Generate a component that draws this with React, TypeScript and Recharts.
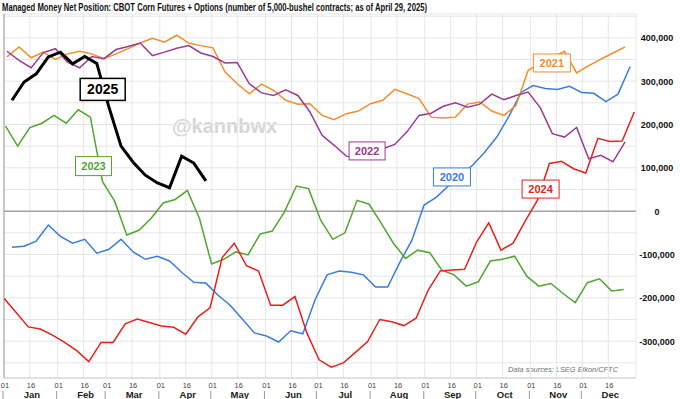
import React from "react";
import { LineChart, Line, XAxis, YAxis, CartesianGrid, ReferenceLine, ReferenceDot } from "recharts";

// weekly managed money net position, thousands of contracts (from first report of the year)
const y2020 = [-83, -81, -69, -32, -58, -74, -65, -97, -88, -65, -94, -111, -104, -115, -141, -164, -166, -194, -217, -249, -281, -288, -302, -276, -283, -205, -147, -138, -141, -147, -175, -175, -118, -67, 14, 32, 58, 83, 106, 136, 171, 219, 274, 290, 283, 281, 288, 274, 272, 253, 270, 334];
const y2021 = [356, 379, 354, 367, 350, 363, 369, 363, 352, 363, 375, 388, 399, 390, 406, 388, 382, 377, 321, 294, 271, 293, 279, 256, 247, 248, 221, 211, 225, 231, 248, 256, 281, 271, 260, 217, 215, 217, 247, 252, 231, 221, 244, 325, 341, 355, 369, 319, 336, 351, 365, 379];
const y2022 = [369, 348, 331, 366, 375, 344, 331, 357, 352, 373, 380, 388, 359, 367, 376, 382, 365, 357, 342, 343, 294, 273, 267, 280, 267, 229, 175, 152, 127, 124, 134, 144, 154, 183, 221, 226, 242, 250, 240, 247, 270, 257, 267, 275, 239, 179, 171, 193, 121, 129, 114, 160];
const y2023 = [196, 150, 193, 203, 221, 203, 234, 217, 68, 23, -55, -44, -17, 19, 27, 48, -17, -122, -111, -94, -101, -53, -46, -2, 58, 52, -21, -65, -50, 25, 16, -28, -74, -109, -90, -96, -136, -147, -173, -163, -115, -111, -104, -150, -173, -167, -190, -211, -165, -156, -184, -181];
const y2024 = [-201, -234, -267, -272, -286, -303, -322, -347, -303, -303, -260, -249, -257, -265, -268, -284, -244, -223, -107, -74, -126, -138, -217, -217, -197, -282, -343, -360, -350, -326, -301, -250, -255, -264, -247, -182, -138, -136, -134, -71, -27, -90, -74, -23, 25, 110, 115, 98, 88, 168, 161, 162, 229];
const y2025 = [256, 298, 317, 356, 367, 340, 357, 341, 240, 150, 113, 83, 65, 54, 127, 111, 70];

// day of year of each series' first weekly report
const firstDay = { 2020: 4.6, 2021: 1.7, 2022: 1.7, 2023: 0.9, 2024: 0, 2025: 4.6 };

const months = ["Jan", "Feb", "Mar", "Apr", "May", "Jun", "Jul", "Aug", "Sep", "Oct", "Nov", "Dec"];
const tickDays = [0, 15, 31, 46, 59, 74, 90, 105, 120, 135, 151, 166, 181, 196, 212, 227, 243, 258, 273, 288, 304, 319, 334, 349];
const yTicks = [-350, -300, -250, -200, -150, -100, -50, 0, 50, 100, 150, 200, 250, 300, 350, 400, 450];

const weekly = (start: number, vals: number[]) => vals.map((v, i) => ({ day: start + 7 * i, v }));

const series = [
  { year: "2020", data: weekly(firstDay[2020], y2020), color: "#3b7ddd", width: 1.5 },
  { year: "2021", data: weekly(firstDay[2021], y2021), color: "#f28e2b", width: 1.5 },
  { year: "2022", data: weekly(firstDay[2022], y2022), color: "#9b3d8e", width: 1.5 },
  { year: "2023", data: weekly(firstDay[2023], y2023), color: "#52a630", width: 1.5 },
  { year: "2024", data: weekly(firstDay[2024], y2024), color: "#e4231d", width: 1.5 },
  { year: "2025", data: weekly(firstDay[2025], y2025), color: "#000000", width: 3 },
];

const tags = [
  { year: "2025", day: 57, v: 281, color: "#000000", w: 45, h: 22, fs: 14, sw: 1.5 },
  { year: "2023", day: 51.7, v: 104, color: "#52a630", w: 36, h: 19, fs: 11, sw: 1 },
  { year: "2022", day: 209.7, v: 139, color: "#9b3d8e", w: 36, h: 18, fs: 11, sw: 1 },
  { year: "2020", day: 258.7, v: 79, color: "#3b7ddd", w: 37, h: 18, fs: 11, sw: 1 },
  { year: "2021", day: 316.4, v: 342, color: "#f28e2b", w: 37, h: 18, fs: 11, sw: 1 },
  { year: "2024", day: 309.9, v: 51, color: "#e4231d", w: 37, h: 18, fs: 11, sw: 1 },
];

const font = "'Liberation Sans', Arial, sans-serif";

const XTick = (props: any) => {
  const { x, payload } = props;
  const idx = tickDays.indexOf(payload.value);
  const isFirst = idx % 2 === 0;
  return (
    <g>
      <text x={x + 1} y={388} textAnchor="middle" fontSize={7.5} fill="#444" fontFamily={font}>
        {isFirst ? "01" : "16"}
      </text>
      {isFirst ? (
        <line x1={x - 1} x2={x - 1} y1={391} y2={399} stroke="#999" strokeWidth={1} />
      ) : (
        <text x={x + 2} y={398} textAnchor="middle" fontSize={9.5} fontWeight="bold" fill="#222" fontFamily={font}>
          {months[Math.floor(idx / 2)]}
        </text>
      )}
    </g>
  );
};

const YTick = (props: any) => {
  const { y, payload } = props;
  const v = payload.value;
  if (v % 100 !== 0) return <g />;
  return (
    <text x={657} y={y + 3.5} textAnchor="middle" fontSize={9} fontWeight="bold" fill="#111" fontFamily={font}>
      {(v * 1000).toLocaleString("en-US")}
    </text>
  );
};

const tagShape = (t: (typeof tags)[number]) => (props: any) => {
  const { cx, cy } = props;
  return (
    <g>
      <rect x={cx - t.w / 2} y={cy - t.h / 2} width={t.w} height={t.h} fill="#fff" stroke={t.color} strokeWidth={t.sw} />
      <text x={cx} y={cy + t.fs * 0.36} textAnchor="middle" fontSize={t.fs} fontWeight="bold" fill={t.color} fontFamily={font}>
        {t.year}
      </text>
    </g>
  );
};

export default function App() {
  return (
    <div style={{ position: "absolute", left: 0, top: 0, width: 680, height: 399, background: "#fff" }}>
      <svg width={680} height={399} style={{ position: "absolute", left: 0, top: 0 }}>
        <text x={2} y={11} fontSize={11.5} fontWeight="bold" fill="#111" fontFamily={font} textLength={425} lengthAdjust="spacingAndGlyphs">
          Managed Money Net Position: CBOT Corn Futures + Options (number of 5,000-bushel contracts; as of April 29, 2025)
        </text>
        <text x={172} y={133} fontSize={20} fontWeight="bold" fill="#d6d6d6" fontFamily={font}>
          @kannbwx
        </text>
        <text x={618} y={372} textAnchor="end" fontSize={8} fontStyle="italic" fill="#707070" fontFamily={font} textLength={110} lengthAdjust="spacingAndGlyphs">
          Data sources: LSEG Eikon/CFTC
        </text>
      </svg>
      <div style={{ position: "absolute", left: 0, top: 0 }}>
        <LineChart width={680} height={399} margin={{ top: 14, right: 0, bottom: 0, left: 4 }}>
          <CartesianGrid stroke="#e6e6e6" strokeWidth={1} />
          <XAxis
            type="number"
            dataKey="day"
            domain={[0, 365]}
            ticks={tickDays}
            allowDataOverflow
            height={21}
            axisLine={{ stroke: "#cfcfcf" }}
            tickLine={false}
            tick={<XTick />}
            interval={0}
          />
          <YAxis
            orientation="right"
            domain={[-385, 455]}
            ticks={yTicks}
            allowDataOverflow
            width={44}
            axisLine={false}
            tickLine={false}
            tick={<YTick />}
            interval={0}
          />
          <ReferenceLine x={0} stroke="#b8b8b8" strokeWidth={1.5} />
          <ReferenceLine y={0} stroke="#a3a3a3" strokeWidth={1.5} />
          {series.map((s) => (
            <Line
              key={s.year}
              data={s.data}
              dataKey="v"
              type="linear"
              stroke={s.color}
              strokeWidth={s.width}
              dot={false}
              activeDot={false}
              isAnimationActive={false}
            />
          ))}
          {tags.map((t) => (
            <ReferenceDot key={t.year} x={t.day} y={t.v} r={0} ifOverflow="visible" shape={tagShape(t)} />
          ))}
        </LineChart>
      </div>
    </div>
  );
}
